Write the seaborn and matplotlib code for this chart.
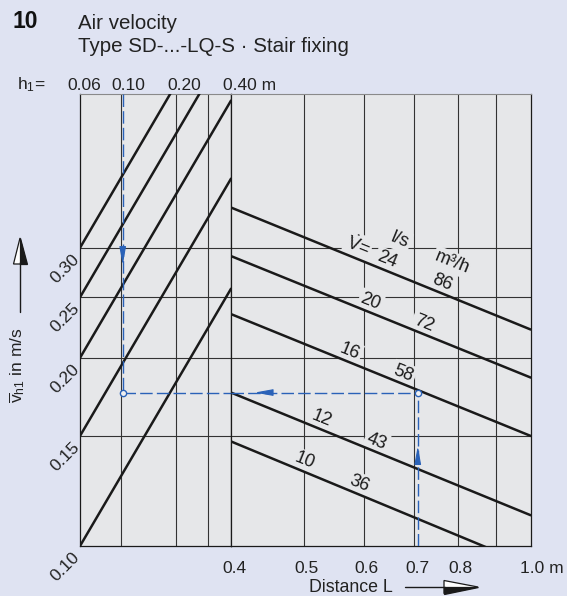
import numpy as np
import pandas as pd
import matplotlib
matplotlib.use("Agg")
import matplotlib.pyplot as plt
import matplotlib.transforms as mtrans
from matplotlib.patches import Polygon
import seaborn as sns

# ---------------- data ----------------
h1_ticks = [0.06, 0.10, 0.20, 0.40]
h1_tick_labels = ["0.06", "0.10", "0.20", "0.40 m"]
h1_grid = [0.10, 0.20, 0.30]

L_ticks = [0.4, 0.5, 0.6, 0.7, 0.8, 1.0]
L_tick_labels = ["0.4", "0.5", "0.6", "0.7", "0.8", "1.0 m"]
L_grid = [0.5, 0.6, 0.7, 0.8, 0.9]

v_ticks = [0.10, 0.15, 0.20, 0.25, 0.30]
v_tick_labels = ["0.10", "0.15", "0.20", "0.25", "0.30"]

# left panel: diagonal h1 lines, v at h1 = 0.06 and at h1 = 0.40
diag_v_start = [0.10, 0.15, 0.20, 0.25, 0.30]
diag_v_end = [0.258, 0.387, 0.516, 0.645, 0.775]

# right panel: flow-rate lines, v at L = 0.4 and L = 1.0
flow_ls = [24, 20, 16, 12, 10]
flow_m3h = [86, 72, 58, 43, 36]
flow_v_L04 = [0.348, 0.291, 0.235, 0.176, 0.147]
flow_v_L10 = [0.222, 0.186, 0.150, 0.112, 0.093]

# example reading
ex_h1 = 0.1026
ex_L = 0.708
ex_v = 0.176

# ---------------- style ----------------
W, H = 567, 596
fig_bg = "#dfe3f2"
plot_bg = "#e6e7e9"
blue = "#2a62b8"
ink = "#1a1a1a"
txt_c = "#222222"

sns.set_theme(style="white")
plt.rcParams["font.family"] = ["Liberation Sans", "DejaVu Sans"]
plt.rcParams["mathtext.fontset"] = "custom"
plt.rcParams["mathtext.rm"] = "Liberation Sans"
plt.rcParams["mathtext.it"] = "Liberation Sans:italic"

fig = plt.figure(figsize=(W / 100, H / 100), dpi=100, facecolor=fig_bg)
x0, x1, x2 = 80, 231, 530.7
ytop, ybot = 94, 546
axL = fig.add_axes([x0 / W, (H - ybot) / H, (x1 - x0) / W, (ybot - ytop) / H])
axR = fig.add_axes([x1 / W, (H - ybot) / H, (x2 - x1) / W, (ybot - ytop) / H])

vmin, vmax = 0.10, 0.5287

# diagonal lines (left)
df_diag = pd.DataFrame({
    "h1": [0.06] * len(diag_v_start) + [0.40] * len(diag_v_end),
    "v": diag_v_start + diag_v_end,
    "line": list(range(len(diag_v_start))) * 2,
})
sns.lineplot(data=df_diag, x="h1", y="v", units="line", estimator=None,
             color=ink, lw=1.8, ax=axL, legend=False, zorder=4)

# flow lines (right)
df_flow = pd.DataFrame({
    "L": [0.4] * len(flow_ls) + [1.0] * len(flow_ls),
    "v": flow_v_L04 + flow_v_L10,
    "V": flow_ls * 2,
})
sns.lineplot(data=df_flow, x="L", y="v", units="V", estimator=None,
             color=ink, lw=1.8, ax=axR, legend=False, zorder=4)

for ax in (axL, axR):
    ax.set_facecolor(plot_bg)
    ax.set_xscale("log")
    ax.set_yscale("log")
    ax.minorticks_off()
    ax.set_xlabel("")
    ax.set_ylabel("")
    ax.set_xticks([])
    ax.set_yticks([])
    ax.tick_params(length=0)
    for s in ax.spines.values():
        s.set_color(ink)
        s.set_linewidth(0.9)
    ax.spines["top"].set_color("#8a8a8a")
    ax.spines["top"].set_linewidth(0.8)
    for v in v_ticks[1:]:
        ax.axhline(v, color="#333333", lw=0.8, zorder=1)
axL.set_xlim(0.06, 0.40)
axR.set_xlim(0.4, 1.0)
for ax in (axL, axR):
    ax.set_ylim(vmin, vmax)
for h in h1_grid:
    axL.axvline(h, color="#333333", lw=0.8, zorder=1)
for L in L_grid:
    axR.axvline(L, color="#333333", lw=0.8, zorder=1)


# line labels along flow lines
def v_on_line(i, L):
    a, b = np.log10(flow_v_L04[i]), np.log10(flow_v_L10[i])
    t = (np.log10(L) - np.log10(0.4)) / (np.log10(1.0) - np.log10(0.4))
    return 10 ** (a + t * (b - a))


label_L_ls = [0.644, 0.613, 0.575, 0.528, 0.501]
label_L_m3h = [0.763, 0.721, 0.678, 0.624, 0.592]
ang = -22
bb = dict(boxstyle="square,pad=0.12", fc=plot_bg, ec="none")
for i in range(len(flow_ls)):
    for txt, L in ((str(flow_ls[i]), label_L_ls[i]), (str(flow_m3h[i]), label_L_m3h[i])):
        axR.annotate(txt, xy=(L, v_on_line(i, L)), xytext=(0, 11),
                     textcoords="offset pixels", ha="center", va="center",
                     rotation=ang, fontsize=13, color=ink, bbox=bb, zorder=3)

axR.annotate(r"$\dot{\mathrm{V}}$=", xy=(0.593, v_on_line(0, 0.593)), xytext=(-2, 14),
             textcoords="offset pixels", ha="center", va="center", rotation=ang,
             fontsize=13, color=ink, bbox=bb, zorder=3)
axR.annotate("l/s", xy=(0.670, v_on_line(0, 0.670)), xytext=(0, 36),
             textcoords="offset pixels", ha="center", va="center", rotation=ang,
             fontsize=13, color=ink, bbox=bb, zorder=3)
axR.annotate("m³/h", xy=(0.787, v_on_line(0, 0.787)), xytext=(0, 35),
             textcoords="offset pixels", ha="center", va="center", rotation=ang,
             fontsize=13, color=ink, bbox=bb, zorder=3)

# example path (blue dashed)
dash = dict(color=blue, lw=1.0, dashes=(9, 3), zorder=5)
axL.plot([ex_h1, ex_h1], [vmax, ex_v], **dash)
axL.plot([ex_h1, 0.40], [ex_v, ex_v], **dash)
axR.plot([0.4, ex_L], [ex_v, ex_v], **dash)
axR.plot([ex_L, ex_L], [vmin, ex_v], **dash)
for ax, xx in ((axL, ex_h1), (axR, ex_L)):
    ax.plot([xx], [ex_v], marker="o", ms=4.5, mfc="#f0f0f0", mec=blue, mew=1.0,
            zorder=6, clip_on=False)

ap = dict(arrowstyle="-|>,head_length=1.1,head_width=0.2", color=blue, lw=0.8,
          shrinkA=0, shrinkB=0, mutation_scale=10)
axL.annotate("", xy=(ex_h1, 0.2816), xytext=(0, 16), textcoords="offset pixels",
             arrowprops=ap, zorder=6)
axR.annotate("", xy=(0.430, ex_v), xytext=(16, 0), textcoords="offset pixels",
             arrowprops=ap, zorder=6)
axR.annotate("", xy=(ex_L, 0.1445), xytext=(0, -16), textcoords="offset pixels",
             arrowprops=ap, zorder=6)


# tick labels
def off(dx, dy):
    return mtrans.ScaledTranslation(dx / 100, dy / 100, fig.dpi_scale_trans)


trY = mtrans.blended_transform_factory(axL.transAxes, axL.transData)
for v, lab in zip(v_ticks, v_tick_labels):
    axL.text(0.0, v, lab, transform=trY + off(-2.5, -9), rotation=45, ha="right",
             va="center", rotation_mode="anchor", fontsize=12.5, color=txt_c)

trL = mtrans.blended_transform_factory(axL.transData, axL.transAxes)
for h, lab in zip(h1_ticks, h1_tick_labels):
    if lab.endswith("m"):
        axL.text(h, 1.0, lab, transform=trL + off(-8, 4), ha="left", va="baseline",
                 fontsize=12.5, color=txt_c)
    else:
        dx = 8 if h > 0.07 else 4
        axL.text(h, 1.0, lab, transform=trL + off(dx, 4), ha="center", va="baseline",
                 fontsize=12.5, color=txt_c)

trR = mtrans.blended_transform_factory(axR.transData, axR.transAxes)
for L, lab in zip(L_ticks, L_tick_labels):
    if lab.endswith("m"):
        axR.text(L, 0.0, lab, transform=trR + off(-11, -27), ha="left", va="baseline",
                 fontsize=12.5, color=txt_c)
    else:
        axR.text(L, 0.0, lab, transform=trR + off(3, -27), ha="center", va="baseline",
                 fontsize=12.5, color=txt_c)

# titles
fig.text(12 / W, 1 - 28 / H, "10", fontsize=16.5, fontweight="bold", va="baseline",
         color="#111111")
fig.text(78 / W, 1 - 29 / H, "Air velocity", fontsize=14.8, va="baseline", color=txt_c)
fig.text(78 / W, 1 - 52 / H, "Type SD-...-LQ-S · Stair fixing", fontsize=14.8,
         va="baseline", color=txt_c)
fig.text(17 / W, 1 - 89 / H, "h$_1$=", fontsize=12.5, va="baseline", color=txt_c)

# axis labels with arrows
fig.text(17 / W, 1 - 365 / H, r"$\overline{\mathrm{v}}_{\mathrm{h1}}$ in m/s", rotation=90,
         ha="center", va="center", fontsize=12.5, color=txt_c)
fig.text(309 / W, 1 - 595.5 / H, "Distance L", ha="left", va="bottom", fontsize=12.8,
         color=txt_c)


def F(x, y):
    return (x / W, 1 - y / H)


# up arrow
fig.add_artist(plt.Line2D([20 / W, 20 / W], [1 - 312 / H, 1 - 262 / H], color=ink, lw=1.0,
                          transform=fig.transFigure))
fig.add_artist(Polygon([F(20, 238), F(13.5, 264), F(26.5, 264)], closed=True, fc="white",
                       ec=ink, lw=0.9, transform=fig.transFigure))
fig.add_artist(Polygon([F(20, 238), F(20, 264), F(26.5, 264)], closed=True, fc=ink,
                       ec=ink, lw=0.9, transform=fig.transFigure))
# right arrow
fig.add_artist(plt.Line2D([405 / W, 445 / W], [1 - 587 / H, 1 - 587 / H], color=ink, lw=1.0,
                          transform=fig.transFigure))
fig.add_artist(Polygon([F(478, 587), F(444, 580.5), F(444, 593.5)], closed=True, fc="white",
                       ec=ink, lw=0.9, transform=fig.transFigure))
fig.add_artist(Polygon([F(478, 587), F(444, 587), F(444, 593.5)], closed=True, fc=ink,
                       ec=ink, lw=0.9, transform=fig.transFigure))

fig.savefig("out.png", dpi=100, facecolor=fig_bg)
